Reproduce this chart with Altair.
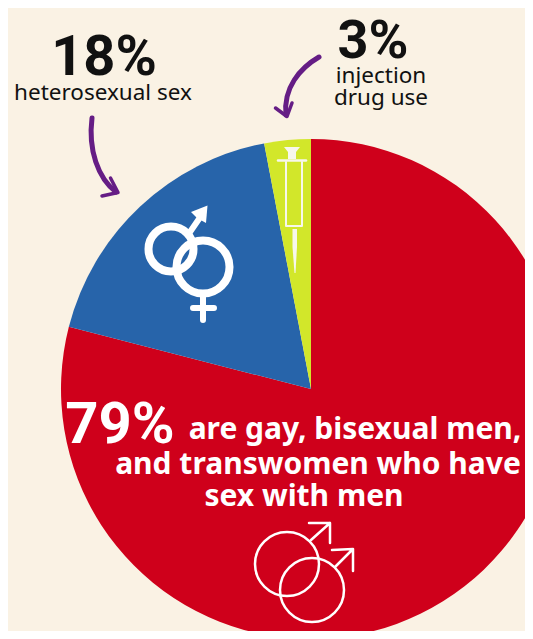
import altair as alt
import pandas as pd

groups = ["gay, bisexual men, transwomen", "heterosexual sex", "injection drug use"]
shares = [79, 18, 3]
slice_order = [0, 1, 2]
colors = ["#cf001b", "#2764aa", "#d2e72a"]

BG = "#faf2e4"
WHITE = "#ffffff"
CREAM = "#f7f7ec"
PURPLE = "#651d85"
INK = "#111111"
OFF = 8  # the page margin: screen position minus OFF is the chart position

df = pd.DataFrame({"group": groups, "share": shares, "o": slice_order})
anchor = pd.DataFrame({"a": [0]})

pie = (
    alt.Chart(df)
    .mark_arc(radius=250, stroke=None)
    .encode(
        theta=alt.Theta("share:Q", stack=True),
        order=alt.Order("o:Q"),
        color=alt.Color("group:N", scale=alt.Scale(domain=groups, range=colors), legend=None),
        x=alt.value(311 - OFF),
        y=alt.value(389 - OFF),
    )
)


def label(t, cx, base, size, font="Noto Sans", color=INK, weight="normal"):
    return (
        alt.Chart(anchor)
        .mark_text(text=t, font=font, fontSize=size, fontWeight=weight, color=color,
                   align="center", baseline="alphabetic")
        .encode(x=alt.value(cx - OFF), y=alt.value(base - OFF))
    )


def path(d, stroke=None, width=0, fill=None):
    kw = dict(shape=d, size=4, opacity=1, filled=fill is not None)
    if fill is not None:
        kw["fill"] = fill
    if stroke is not None:
        kw.update(stroke=stroke, strokeWidth=width, strokeCap="round", strokeJoin="round")
    return alt.Chart(anchor).mark_point(**kw).encode(x=alt.value(-OFF), y=alt.value(-OFF))


def ring(cx, cy, d, width, color=WHITE):
    return (
        alt.Chart(anchor)
        .mark_point(shape="circle", size=d * d, filled=False, stroke=color, strokeWidth=width, opacity=1)
        .encode(x=alt.value(cx - OFF), y=alt.value(cy - OFF))
    )


NUM = "Roboto"
layers = [
    pie,
    # purple arrows
    path("M92,118 C88,150 98,178 116,192", PURPLE, 5),
    path("M102,196 L118,192.5 L110.5,178", PURPLE, 3.5),
    path("M319,57 C300,68 283,88 286,115", PURPLE, 5),
    path("M275.5,108 L287,116.5 L292,103", PURPLE, 3.5),
    # headline numbers and labels
    label("18%", 104, 75, 56, NUM, INK, "bold"),
    label("heterosexual sex", 103, 100, 22.5),
    label("3%", 373, 58, 54, NUM, INK, "bold"),
    label("injection", 381, 83, 22.5),
    label("drug use", 381, 105, 22.5),
    label("79%", 120, 443, 58, NUM, WHITE, "bold"),
    label("are gay, bisexual men,", 355, 439, 30, "Noto Sans", WHITE, "bold"),
    label("and transwomen who have", 318, 474, 30, "Noto Sans", WHITE, "bold"),
    label("sex with men", 304, 506, 30, "Noto Sans", WHITE, "bold"),
    # male / female symbol on blue
    ring(171, 249, 45, 8),
    ring(203, 267, 53, 8),
    path("M190,232 L201,216", WHITE, 6),
    path("M207.5,205.5 L191,212 L197,218 L206,223 Z", None, 0, WHITE),
    path("M203,296 L203,320 M193,308 L214,308", WHITE, 6),
    # syringe on green
    path("M284,147 L300,147 L296,152 L296,159 L288,159 L288,152 Z", None, 0, CREAM),
    path("M278,160.5 L306,160.5", CREAM, 2.5),
    path("M286,162 L286,226 L302,226 L302,162", CREAM, 2),
    path("M292.5,229 L297,229 L297,247 L295.5,273 L294.5,273 L292.5,247 Z", None, 0, CREAM),
    # male / male symbol on red
    ring(287, 564, 64, 2.5),
    ring(312, 590, 64, 2.5),
    path("M311,540 L330,523 M309,523 L330,523 L330,543", WHITE, 2.5),
    path("M335,567 L353,549 M332,550 L353,549 L353,571", WHITE, 2.5),
]

chart = (
    alt.layer(*layers)
    .properties(width=517, height=623, background=BG, padding=0,
                autosize=alt.AutoSizeParams(type="none"))
    .configure_view(stroke=None)
)

chart.save("out.html", embed_options={"renderer": "svg", "actions": False})
